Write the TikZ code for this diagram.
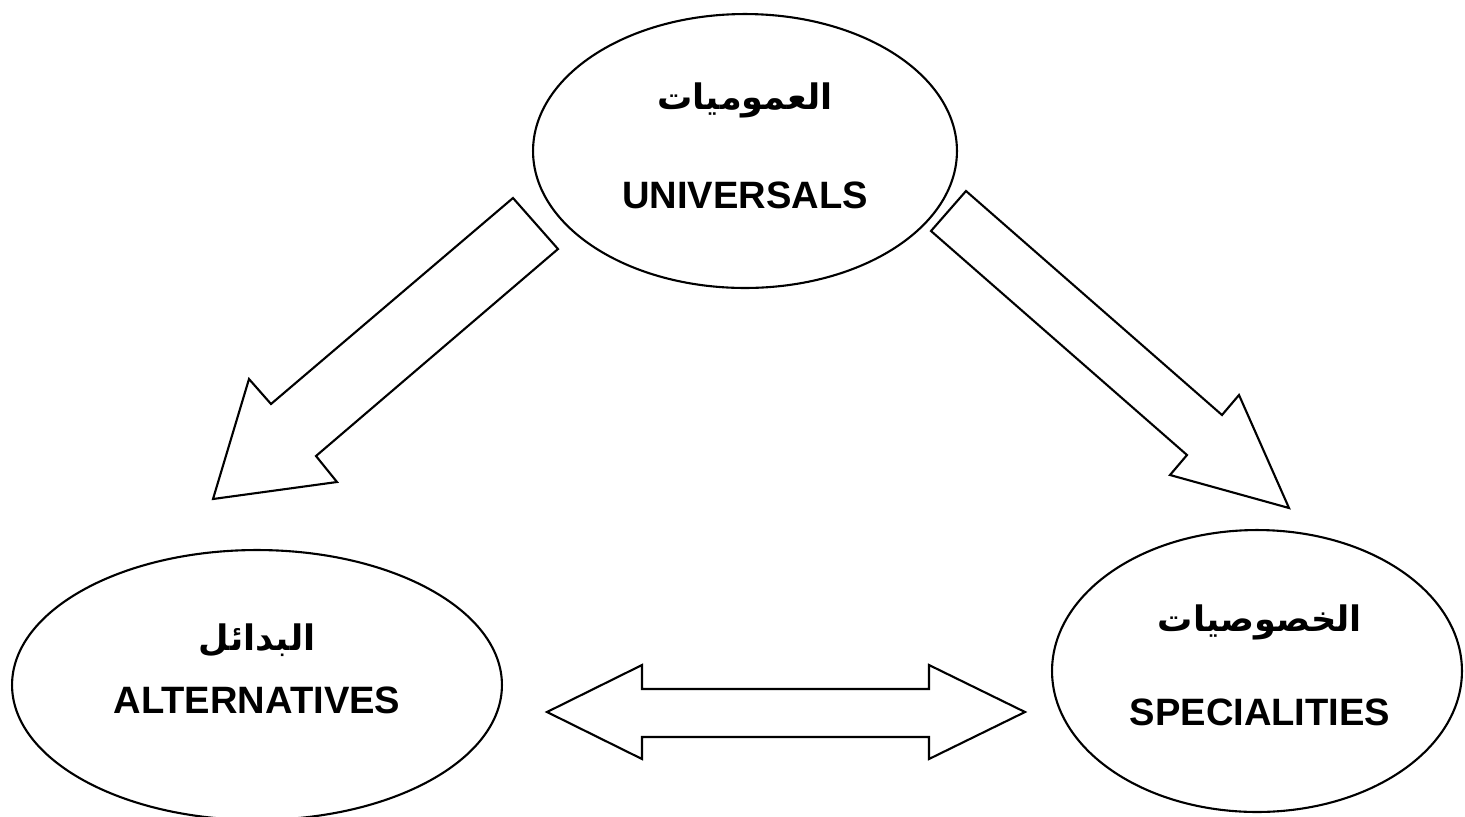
\documentclass[tikz,border=0pt]{standalone}
\usepackage{fontspec}
\setmainfont{Liberation Sans}
\newfontfamily\arabicfont[Script=Arabic]{DejaVu Sans}
\TeXXeTstate=1
\usetikzlibrary{shapes.geometric}

\begin{document}
\begin{tikzpicture}[line join=miter,x=0.02cm,y=-0.02cm,
  bubble/.style={draw, ellipse, line width=1.2pt, inner sep=0pt},
  blockarrow/.style={draw, line width=1.2pt},
  lbl/.style={font=\bfseries\fontsize{21.7}{26}\selectfont, inner sep=0pt},
  arlbl/.style={font=\arabicfont\bfseries\fontsize{20}{24}\selectfont, inner sep=0pt}]
\useasboundingbox (0,0) rectangle (1465,816);

% Ellipses
\node [bubble, minimum width=8.48cm, minimum height=5.48cm] (univ) at (745,151) {};
\node [bubble, minimum width=9.8cm, minimum height=5.4cm] (altern) at (257,685) {};
\node [bubble, minimum width=8.2cm, minimum height=5.64cm] (spec) at (1257,671) {};

% Labels
\node [arlbl] (univAr) at (745,100) {\beginR العموميات\endR};
\node [lbl] (univEn) at (745,195) {UNIVERSALS};
\node [arlbl] (alternAr) at (257,640) {\beginR البدائل\endR};
\node [lbl] (alternEn) at (257,700) {ALTERNATIVES};
\node [arlbl] (specAr) at (1260,622) {\beginR الخصوصيات\endR};
\node [lbl] (specEn) at (1260,712) {SPECIALITIES};

% Block arrow down to the left
\draw [blockarrow] (513,198) -- (558,249) -- (316,456) -- (337,482) -- (213,499)
  -- (249,379) -- (271,404) -- cycle;

% Block arrow down to the right
\draw [blockarrow] (966,191) -- (1222,415) -- (1239,395) -- (1289,508) -- (1170,475)
  -- (1187,455) -- (931,231) -- cycle;

% Double block arrow
\draw [blockarrow] (547,712) -- (642,665) -- (642,689) -- (929,689) -- (929,665)
  -- (1025,712) -- (929,759) -- (929,737) -- (642,737) -- (642,759) -- cycle;
\end{tikzpicture}
\end{document}
